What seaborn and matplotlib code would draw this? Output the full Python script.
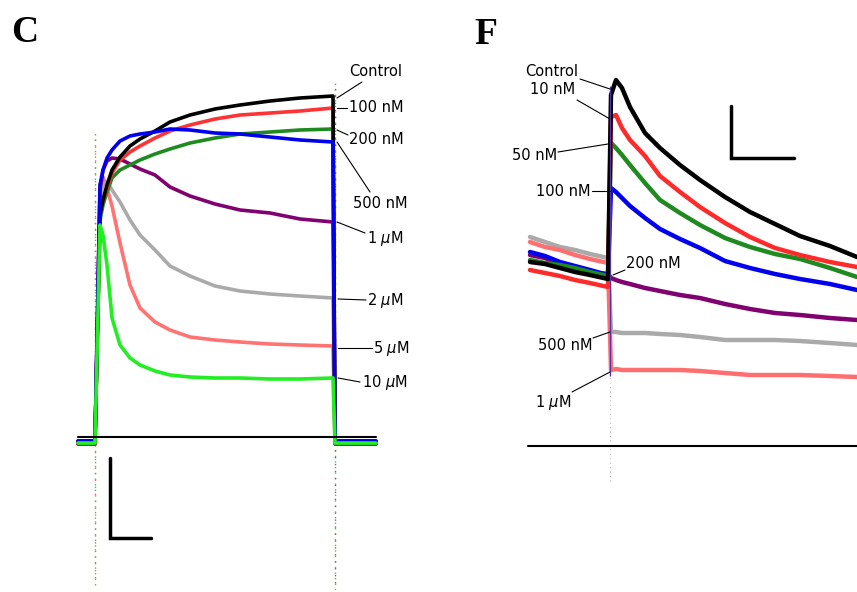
import matplotlib
matplotlib.use('Agg')
import matplotlib.pyplot as plt
import seaborn as sns
import pandas as pd

# ---------------------------------------------------------------------------
# Data
# ---------------------------------------------------------------------------

# Panel C: step currents, time in ms, current in nA
c_time = [-170, 0, 50, 80, 120, 170, 250, 350, 450, 600, 750, 950,
          1200, 1450, 1750, 2050, 2380, 2400, 2810]
c_control = [-0.04, -0.04, 2.22, 2.37, 2.52, 2.67, 2.80, 2.91, 2.98, 3.06, 3.15, 3.22,
             3.28, 3.32, 3.36, 3.39, 3.41, -0.04, -0.04]
c_100nm = [-0.05, -0.05, 2.22, 2.37, 2.49, 2.64, 2.77, 2.85, 2.91, 2.99, 3.06, 3.12,
           3.18, 3.22, 3.24, 3.26, 3.29, -0.05, -0.05]
c_200nm = [-0.06, -0.06, 2.17, 2.32, 2.45, 2.59, 2.67, 2.72, 2.77, 2.83, 2.88, 2.94,
           2.99, 3.03, 3.05, 3.07, 3.08, -0.06, -0.06]
c_500nm = [-0.04, -0.04, 2.52, 2.67, 2.79, 2.87, 2.96, 3.01, 3.03, 3.05, 3.08, 3.07,
           3.04, 3.03, 3.00, 2.97, 2.95, -0.04, -0.04]
c_1um = [-0.07, -0.07, 2.47, 2.67, 2.76, 2.79, 2.78, 2.73, 2.68, 2.62, 2.50, 2.41,
         2.33, 2.27, 2.24, 2.18, 2.15, -0.07, -0.07]
c_2um = [-0.06, -0.06, 2.37, 2.52, 2.55, 2.47, 2.35, 2.17, 2.02, 1.87, 1.71, 1.61,
         1.51, 1.46, 1.43, 1.41, 1.39, -0.06, -0.06]
c_5um = [-0.07, -0.07, 2.52, 2.60, 2.49, 2.31, 1.94, 1.52, 1.29, 1.15, 1.07, 1.00,
         0.97, 0.95, 0.93, 0.92, 0.91, -0.07, -0.07]
c_10um = [-0.06, -0.06, 2.12, 2.02, 1.72, 1.19, 0.92, 0.79, 0.72, 0.66, 0.62, 0.60,
          0.59, 0.59, 0.58, 0.58, 0.59, -0.06, -0.06]

c_labels = ["Control", "100 nM", "200 nM", "500 nM", r"1 $\mu$M", r"2 $\mu$M",
            r"5 $\mu$M", r"10 $\mu$M"]

# Panel F: tail currents, time in ms, current in nA
f_time = [-400, -325, -250, -175, -100, -10, 5, 30, 60, 100, 175, 250, 350, 450,
          575, 700, 825, 950, 1100, 1235]
f_control = [1.84, 1.82, 1.78, 1.74, 1.71, 1.67, 3.51, 3.66, 3.58, 3.39, 3.13, 2.98,
             2.81, 2.66, 2.49, 2.34, 2.22, 2.10, 2.00, 1.89]
f_10nm = [1.76, 1.73, 1.70, 1.66, 1.63, 1.59, 3.29, 3.31, 3.18, 3.06, 2.90, 2.70,
          2.54, 2.39, 2.23, 2.09, 1.98, 1.91, 1.84, 1.79]
f_50nm = [1.86, 1.83, 1.81, 1.78, 1.74, 1.70, 3.03, 2.98, 2.91, 2.81, 2.63, 2.46,
          2.33, 2.21, 2.08, 1.99, 1.92, 1.87, 1.78, 1.69]
f_100nm = [1.94, 1.90, 1.84, 1.80, 1.76, 1.71, 2.58, 2.54, 2.48, 2.40, 2.28, 2.17,
           2.07, 1.98, 1.85, 1.78, 1.72, 1.67, 1.62, 1.56]
f_200nm = [1.91, 1.88, 1.82, 1.78, 1.74, 1.72, 1.68, 1.66, 1.64, 1.62, 1.58, 1.55,
           1.51, 1.48, 1.42, 1.37, 1.33, 1.31, 1.28, 1.26]
f_500nm = [2.09, 2.04, 1.99, 1.96, 1.92, 1.88, 1.14, 1.14, 1.13, 1.13, 1.13, 1.12,
           1.11, 1.09, 1.06, 1.06, 1.06, 1.05, 1.03, 1.01]
f_1um = [2.04, 1.99, 1.96, 1.91, 1.87, 1.83, 0.76, 0.77, 0.76, 0.76, 0.76, 0.76,
         0.76, 0.75, 0.73, 0.71, 0.71, 0.71, 0.70, 0.69]

f_labels = ["Control", "10 nM", "50 nM", "100 nM", "200 nM", "500 nM", r"1 $\mu$M"]

c_colors = ["black", "#ff3333", "#1f8a1f", "#0000ee", "#800070", "#aaaaaa",
            "#ff7373", "#22ee22"]
f_colors = ["black", "#ff2a2a", "#1f8a1f", "#0000ee", "#800070", "#aaaaaa", "#ff6f6f"]


# ---------------------------------------------------------------------------
# Helpers
# ---------------------------------------------------------------------------

def draw_trace(ax, t, i, color, lw):
    df = pd.DataFrame({"t": t, "i": i})
    sns.lineplot(data=df, x="t", y="i", color=color, lw=lw, ax=ax,
                 estimator=None, sort=False, legend=False)


def leader(ax, x0, y0, x1, y1):
    ax.plot([x0, x1], [y0, y1], color="black", lw=0.8, clip_on=False)


sns.set_style("white")
plt.rcParams["font.family"] = "DejaVu Sans"
plt.rcParams["text.color"] = "black"

fig = plt.figure(figsize=(8.57, 5.92), dpi=100)

# ---------------------------------------------------------------------------
# Panel C
# ---------------------------------------------------------------------------

ax_c = fig.add_axes([60 / 857, 2 / 592, 360 / 857, 540 / 592])
ax_c.set_xlim(-350, 3250)
ax_c.set_ylim(-1.53, 3.87)
ax_c.axis("off")

# capacitive artifacts
ax_c.vlines(0, -1.48, 3.07, colors="#33cc33", lw=1.0, linestyles=(0, (1, 3)))
ax_c.vlines(0, -1.45, 3.0, colors="#ff6666", lw=1.0, linestyles=(2, (1, 4)))
ax_c.vlines(2400, -1.53, 3.57, colors="#33cc33", lw=1.0, linestyles=(0, (1, 3)))
ax_c.vlines(2400, -1.5, 3.5, colors="#cc3399", lw=1.0, linestyles=(2, (1, 4)))

c_order = [6, 5, 4, 2, 1, 0, 3, 7]
c_series = [c_control, c_100nm, c_200nm, c_500nm, c_1um, c_2um, c_5um, c_10um]
for k in c_order:
    draw_trace(ax_c, c_time, c_series[k], c_colors[k], 2.6)

ax_c.plot([-170, 2810], [0, 0], color="black", lw=1.5)

# labels
c_text_pos = [(2810, 3.66, "center"), (2540, 3.29, "left"), (2540, 2.97, "left"),
              (2580, 2.34, "left"), (2720, 1.99, "left"), (2720, 1.37, "left"),
              (2780, 0.89, "left"), (2670, 0.54, "left")]
c_leaders = [(2420, 3.39, 2670, 3.55), (2420, 3.29, 2520, 3.29),
             (2420, 3.07, 2530, 3.02), (2420, 2.95, 2750, 2.45),
             (2420, 2.15, 2700, 2.04), (2430, 1.38, 2710, 1.37),
             (2430, 0.89, 2770, 0.89), (2430, 0.59, 2650, 0.55)]
for lab, (tx, ty, ha), ld in zip(c_labels, c_text_pos, c_leaders):
    ax_c.text(tx, ty, lab, ha=ha, va="center", fontsize=10.5, clip_on=False)
    leader(ax_c, *ld)

# scale bar
ax_c.plot([150, 150, 560], [-0.21, -1.01, -1.01], color="black", lw=2.5,
          solid_joinstyle="miter")

# ---------------------------------------------------------------------------
# Panel F
# ---------------------------------------------------------------------------

ax_f = fig.add_axes([440 / 857, 2 / 592, 417 / 857, 540 / 592])
ax_f.set_xlim(-850, 1235)
ax_f.set_ylim(-1.44, 3.96)
ax_f.axis("off")

ax_f.vlines(0, -0.35, 0.7, colors="#bbbbbb", lw=0.8, linestyles=(0, (1, 3)))

f_order = [5, 6, 4, 3, 2, 1, 0]
f_series = [f_control, f_10nm, f_50nm, f_100nm, f_200nm, f_500nm, f_1um]
for k in f_order:
    draw_trace(ax_f, f_time, f_series[k], f_colors[k], 3.2)

ax_f.vlines(0, 0.7, 3.6, colors="#5533aa", lw=0.9)
ax_f.plot([-410, 1235], [0, 0], color="black", lw=1.5)

f_text_pos = [(-290, 3.75), (-285, 3.57), (-375, 2.91), (-235, 2.55),
              (215, 1.82), (-225, 1.00), (-285, 0.43)]
f_leaders = [(-150, 3.67, 0, 3.57), (-165, 3.46, 0, 3.27), (-260, 2.94, -10, 3.02),
             (-90, 2.55, 0, 2.55), (75, 1.76, 15, 1.71), (-85, 1.08, 0, 1.14),
             (-190, 0.54, 0, 0.74)]
for lab, (tx, ty), ld in zip(f_labels, f_text_pos, f_leaders):
    ax_f.text(tx, ty, lab, ha="center", va="center", fontsize=10.5, clip_on=False)
    leader(ax_f, *ld)

ax_f.plot([605, 605, 920], [3.40, 2.88, 2.88], color="black", lw=2.5,
          solid_joinstyle="miter")

# panel letters
fig.text(25 / 857, 1 - 32 / 592, "C", family="Liberation Serif", weight="bold",
         fontsize=27, ha="center", va="center", color="black")
fig.text(486 / 857, 1 - 35 / 592, "F", family="Liberation Serif", weight="bold",
         fontsize=27, ha="center", va="center", color="black")

fig.savefig("out.png", dpi=100)
plt.close()
